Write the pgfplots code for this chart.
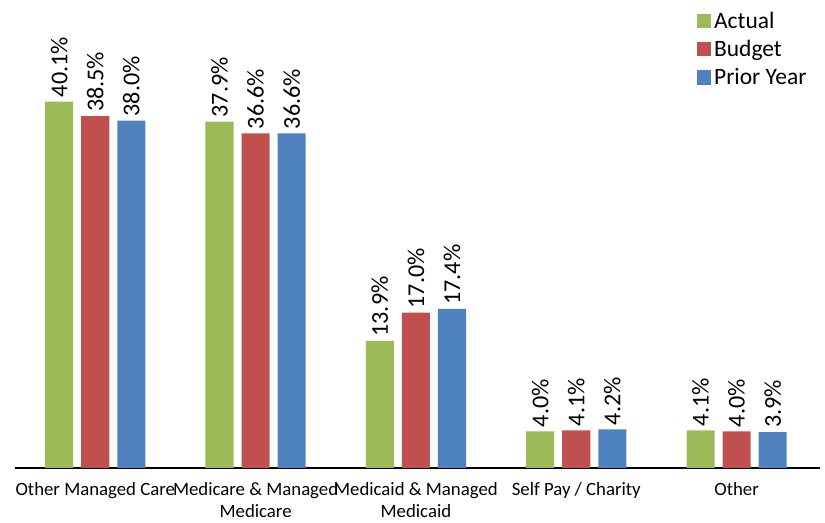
\documentclass[border=0pt]{standalone}
\usepackage{pgfplots}
\pgfplotsset{compat=1.18}
\usepackage{fontspec}
\setmainfont{Carlito}
\definecolor{cgreen}{HTML}{9BBB59}
\definecolor{cred}{HTML}{C0504D}
\definecolor{cblue}{HTML}{4F81BD}
\begin{document}
\begin{tikzpicture}[x=1pt,y=1pt]
\begin{axis}[
  scale only axis,
  width=600pt, height=340.5pt,
  xmin=-0.5, xmax=4.52, ymin=0, ymax=50,
  axis x line*=bottom, axis y line=none,
  x axis line style={line width=1.1pt, black},
  ytick=\empty,
  xtick={0,1,2,3,4},
  xticklabels={Other Managed Care, {Medicare \& Managed\\Medicare}, {Medicaid \& Managed\\Medicaid}, Self Pay / Charity, Other},
  xticklabel style={font=\fontsize{14}{16}\selectfont, align=center, text=black, yshift=-7.5pt},
  major tick length=0pt,
  ybar, bar width=0.175,
  every axis plot/.append style={draw=none},
  /pgf/number format/assume math mode=true,
  nodes near coords={\pgfmathprintnumber[fixed,fixed zerofill,precision=1]{\pgfplotspointmeta}\%},
  every node near coord/.append style={rotate=90, anchor=west, font=\fontsize{18}{20}\selectfont, text=black, inner sep=3pt},
  legend style={draw=none, fill=none, at={(0.987,1.005)}, anchor=north east, font=\fontsize{17.5}{20}\selectfont, row sep=3.5pt, inner sep=0pt, cells={anchor=west}},
  legend image code/.code={\fill[#1] (0pt,-5.2pt) rectangle (10.5pt,5.3pt);},
  clip=false,
]
\coordinate (bl) at (rel axis cs:0,0);
\coordinate (tr) at (rel axis cs:1,1);
\addplot[fill=cgreen, bar shift=-0.225] coordinates {(0,40.1) (1,37.9) (2,13.9) (3,4.0) (4,4.1)};
\addplot[fill=cred, bar shift=0] coordinates {(0,38.5) (1,36.6) (2,17.0) (3,4.1) (4,4.0)};
\addplot[fill=cblue, bar shift=0.225] coordinates {(0,38.0) (1,36.6) (2,17.4) (3,4.2) (4,3.9)};
\legend{Actual, Budget, Prior Year}
\end{axis}
\pgfresetboundingbox
\path[use as bounding box] ([shift={(-11.25pt,-40.5pt)}]bl) rectangle ([shift={(3.75pt,8.25pt)}]tr);
\end{tikzpicture}
\end{document}
